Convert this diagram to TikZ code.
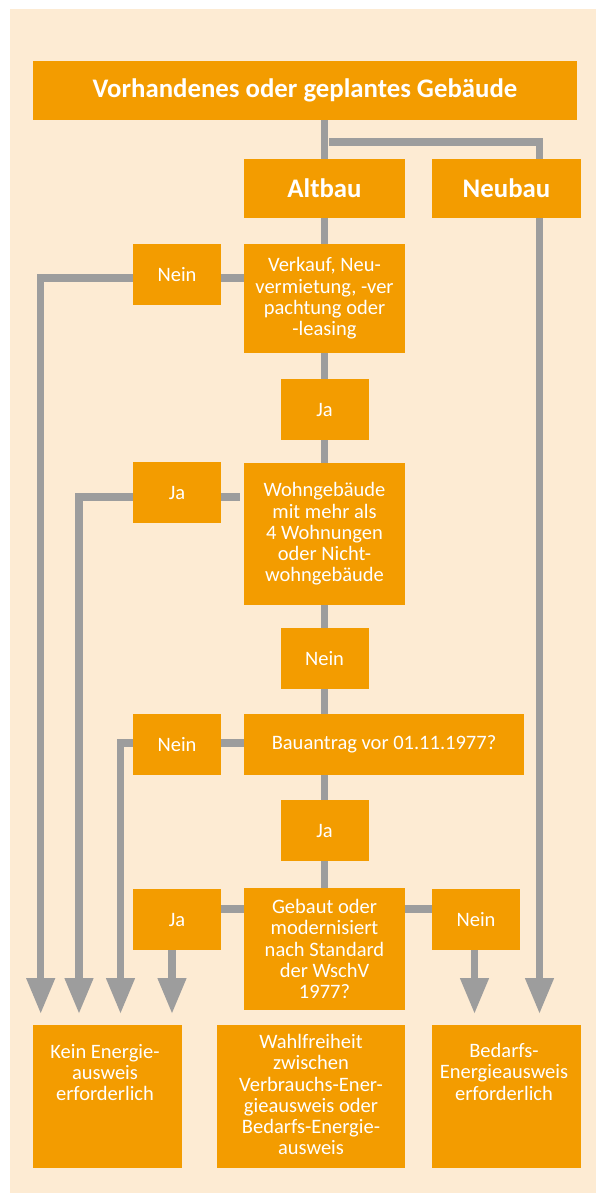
\documentclass[tikz,border=0pt]{standalone}
\usepackage{fontspec}
\setmainfont{Carlito}
\usetikzlibrary{arrows.meta}
\definecolor{bg}{RGB}{253,235,211}
\definecolor{org}{RGB}{243,156,0}
\definecolor{gr}{RGB}{157,157,157}
\begin{document}
\begin{tikzpicture}[x=1pt,y=-1pt,
  box/.style={fill=org,text=white,inner sep=0pt,align=center,font=\fontsize{20.5}{21.3}\selectfont},
  big/.style={box,font=\bfseries\fontsize{26.8}{30}\selectfont},
  txt/.style={text=white,inner sep=0pt,align=center,anchor=north,font=\fontsize{20.5}{21.3}\selectfont},
  conn/.style={draw=gr,line width=7.5pt,line join=miter},
  arr/.style={conn,-{Triangle[width=27pt,length=36pt]}}]
\useasboundingbox (0,0) rectangle (596,1193);
\fill[bg] (10,9) rectangle (596,1193);

% nodes
\node[big,minimum width=544pt,minimum height=59pt] (top) at (305,90.5) {Vorhandenes oder geplantes Gebäude};
\node[big,minimum width=161pt,minimum height=59pt] (altbau) at (324.5,188.5) {Altbau};
\node[big,minimum width=149pt,minimum height=59pt] (neubau) at (506.5,188.5) {Neubau};
\node[box,minimum width=161pt,minimum height=109pt] (verkauf) at (324.5,298.5) {Verkauf, Neu-\\vermietung, -ver\\pachtung oder\\-leasing};
\node[box,minimum width=88pt,minimum height=61pt] (nein1) at (177,274.5) {Nein};
\node[box,minimum width=88pt,minimum height=61pt] (ja1) at (324.5,409.5) {Ja};
\node[box,minimum width=161pt,minimum height=142pt] (wohn) at (324.5,534) {Wohngebäude\\mit mehr als\\4 Wohnungen\\oder Nicht-\\wohngebäude};
\node[box,minimum width=88pt,minimum height=61pt] (ja2) at (177,492.5) {Ja};
\node[box,minimum width=88pt,minimum height=61pt] (nein2) at (324.5,658.5) {Nein};
\node[box,minimum width=280pt,minimum height=61pt] (bau) at (384,744.5) {Bauantrag vor 01.11.1977?};
\node[box,minimum width=88pt,minimum height=61pt] (nein3) at (177,744.5) {Nein};
\node[box,minimum width=88pt,minimum height=61pt] (ja3) at (324.5,830.5) {Ja};
\node[box,minimum width=161pt,minimum height=122pt] (geb) at (324.5,949) {Gebaut oder\\modernisiert\\nach Standard\\der WschV\\1977?};
\node[box,minimum width=88pt,minimum height=61pt] (ja4) at (177,919.5) {Ja};
\node[box,minimum width=88pt,minimum height=61pt] (nein4) at (476,919.5) {Nein};
\node[box,minimum width=149pt,minimum height=143pt] (kein) at (107.5,1096.5) {};
\node[box,minimum width=188pt,minimum height=143pt] (wahl) at (311,1096.5) {};
\node[box,minimum width=149pt,minimum height=143pt] (bedarf) at (506.5,1096.5) {};
\node[txt] (keint) at (105,1044) {Kein Energie-\\ausweis\\erforderlich};
\node[txt] (wahlt) at (311,1034) {Wahlfreiheit\\zwischen\\Verbrauchs-Ener-\\gieausweis oder\\Bedarfs-Energie-\\ausweis};
\node[txt] (bedarft) at (504,1043) {Bedarfs-\\Energieausweis\\erforderlich};

% coordinates
\coordinate (b0) at (329,142);
\coordinate (b1) at (539.5,142);
\coordinate (n1a) at (40.7,278);
\coordinate (n1b) at (40.7,1014);
\coordinate (j2s) at (239.5,497);
\coordinate (j2a) at (79,497);
\coordinate (j2b) at (79,1014);
\coordinate (n3a) at (120.5,743);
\coordinate (n3b) at (120.5,1014);
\coordinate (j4a) at (172,950);
\coordinate (j4b) at (172,1014);
\coordinate (n4a) at (474.5,950);
\coordinate (n4b) at (474.5,1014);
\coordinate (nbb) at (539.5,1014);

% connectors
\draw[conn] (top.south -| altbau) -- (altbau.north);
\draw[conn] (b0) -- (b1) -- (b1 |- neubau.north);
\draw[conn] (altbau) -- (verkauf);
\draw[conn] (verkauf) -- (ja1);
\draw[conn] (ja1) -- (wohn);
\draw[conn] (wohn) -- (nein2);
\draw[conn] (nein2.south) -- (nein2.south |- bau.north);
\draw[conn] (ja3.north |- bau.south) -- (ja3.north);
\draw[conn] (ja3) -- (geb);
\draw[conn] (verkauf.west |- n1a) -- (nein1.east |- n1a);
\draw[arr] (nein1.west |- n1a) -- (n1a) -- (n1b);
\draw[conn] (j2s) -- (ja2.east |- j2s);
\draw[arr] (ja2.west |- j2a) -- (j2a) -- (j2b);
\draw[conn] (bau.west |- n3a) -- (nein3.east |- n3a);
\draw[arr] (nein3.west |- n3a) -- (n3a) -- (n3b);
\draw[conn] (geb.west |- ja4.east) ++(0,-10.5) coordinate (g1) -- (ja4.east |- g1);
\draw[conn] (geb.east |- g1) -- (nein4.west |- g1);
\draw[arr] (j4a) -- (j4b);
\draw[arr] (n4a) -- (n4b);
\draw[arr] (b1 |- neubau.south) -- (nbb);
\end{tikzpicture}
\end{document}
